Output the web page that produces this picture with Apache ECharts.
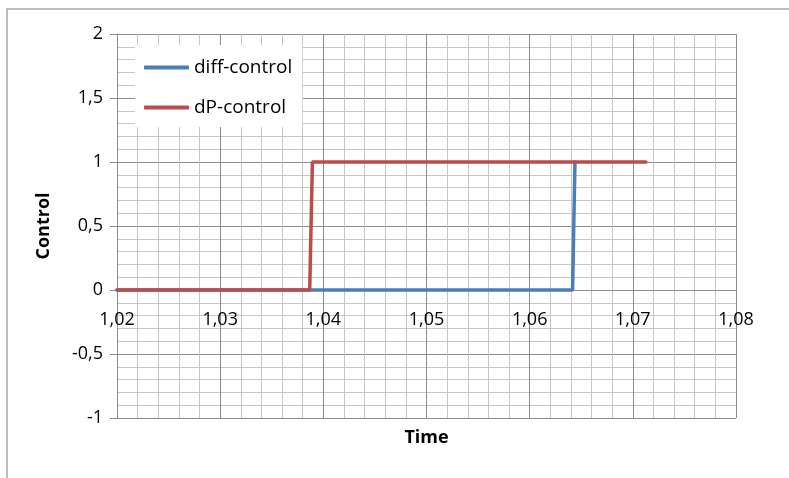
<!DOCTYPE html>
<html>
<head>
<meta charset="utf-8">
<script src="https://cdn.jsdelivr.net/npm/echarts@6/dist/echarts.min.js"></script>
<style>
  html, body { margin: 0; padding: 0; background: #fff; }
  #chart { width: 789px; height: 478px; }
</style>
</head>
<body>
<div id="chart"></div>
<script>
// values
var seriesNames = ['diff-control', 'dP-control'];
var diffTime = [1.02, 1.06416, 1.06439];
var diffControl = [0, 0, 1];
var dpTime = [1.02, 1.03868, 1.03894, 1.07126];
var dpControl = [0, 0, 1, 1];

function pairs(xs, ys) {
  var out = [];
  for (var i = 0; i < xs.length; i++) out.push([xs[i], ys[i]]);
  return out;
}
function comma(v) {
  return String(Math.round(v * 1000) / 1000).replace('.', ',');
}

var font = 'Open Sans';
var major = '#8c8c8c';
var minor = '#c6c6c6';

var myChart = echarts.init(document.getElementById('chart'));
var option = {
  animation: false,
  backgroundColor: '#fff',
  textStyle: { fontFamily: font },
  graphic: [{
    type: 'rect',
    shape: { x: 7, y: 9, width: 900, height: 600 },
    style: { fill: 'none', stroke: '#a6a6a6', lineWidth: 1.5 },
    silent: true
  }],
  grid: { left: 117, right: 53, top: 34, bottom: 60, containLabel: false, outerBoundsMode: 'none' },
  legend: {
    orient: 'vertical',
    left: 135,
    top: 45,
    backgroundColor: '#fff',
    padding: [13, 10, 10, 9],
    itemGap: 21,
    itemWidth: 45,
    itemHeight: 4,
    icon: 'roundRect',
    textStyle: { fontFamily: font, fontSize: 19, color: '#000' },
    data: seriesNames
  },
  xAxis: {
    type: 'value',
    min: 1.02,
    max: 1.08,
    interval: 0.01,
    // the horizontal axis crosses at control = 0 (one third up from the bottom)
    offset: -128,
    name: 'Time',
    nameLocation: 'middle',
    nameGap: 139,
    nameTextStyle: { fontFamily: font, fontSize: 18, fontWeight: 'bold', color: '#000' },
    axisLine: { onZero: false, lineStyle: { color: major, width: 1 } },
    axisTick: { show: false },
    axisLabel: {
      margin: 21,
      fontFamily: font,
      fontSize: 18,
      color: '#000',
      showMinLabel: true,
      showMaxLabel: true,
      formatter: function (v) { return comma(v).length < 4 ? comma(v) + '0' : comma(v); }
    },
    splitLine: { show: true, lineStyle: { color: major, width: 1 } },
    minorTick: { show: false, splitNumber: 5 },
    minorSplitLine: { show: true, lineStyle: { color: minor, width: 1 } }
  },
  yAxis: {
    type: 'value',
    min: -1,
    max: 2,
    interval: 0.5,
    name: 'Control',
    nameLocation: 'middle',
    nameGap: 64,
    nameRotate: 90,
    nameTextStyle: { fontFamily: font, fontSize: 18, fontWeight: 'bold', color: '#000' },
    axisLine: { show: true, onZero: false, lineStyle: { color: major, width: 1 } },
    axisTick: { show: true, length: 7, lineStyle: { color: major } },
    axisLabel: {
      margin: 14,
      fontFamily: font,
      fontSize: 18,
      color: '#000',
      formatter: function (v) { return comma(v); }
    },
    splitLine: { show: true, lineStyle: { color: major, width: 1 } },
    minorTick: { show: false, splitNumber: 5 },
    minorSplitLine: { show: true, lineStyle: { color: minor, width: 1 } }
  },
  series: [{
    name: seriesNames[0],
    type: 'line',
    symbol: 'none',
    color: '#4a7ebb',
    lineStyle: { width: 3.5, color: '#4a7ebb', cap: 'round' },
    data: pairs(diffTime, diffControl)
  }, {
    name: seriesNames[1],
    type: 'line',
    symbol: 'none',
    color: '#be4b48',
    lineStyle: { width: 3.5, color: '#be4b48', cap: 'round' },
    data: pairs(dpTime, dpControl)
  }]
};
myChart.setOption(option);
</script>
</body>
</html>
